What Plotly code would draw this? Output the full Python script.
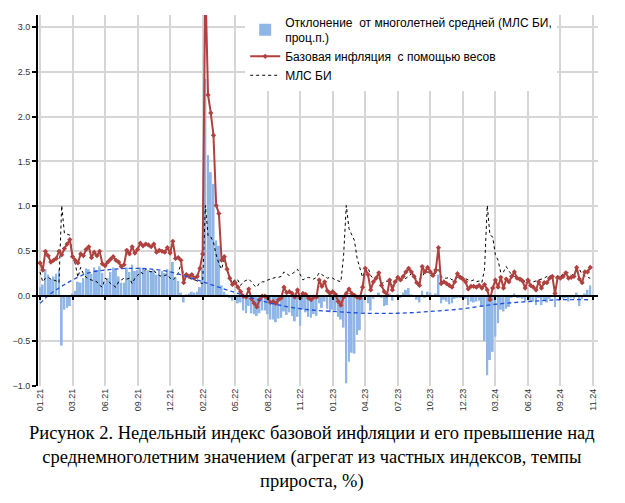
import plotly.graph_objects as go

# weekly core inflation (red), multi-year average (dotted) and deviation (bars), % / p.p.
core = [0.37, 0.29, 0.50, 0.45, 0.38, 0.40, 0.42, 0.50, 0.46, 0.53,
        0.58, 0.63, 0.44, 0.40, 0.37, 0.47, 0.45, 0.52, 0.55, 0.43,
        0.49, 0.45, 0.50, 0.36, 0.34, 0.38, 0.41, 0.44, 0.40, 0.38,
        0.33, 0.35, 0.51, 0.47, 0.55, 0.48, 0.52, 0.59, 0.56, 0.58,
        0.57, 0.55, 0.58, 0.49, 0.51, 0.50, 0.49, 0.54, 0.48, 0.61,
        0.42, 0.43, 0.40, 0.15, 0.24, 0.22, 0.24, 0.20, 0.22, 0.31,
        0.47, 3.50, 2.24, 2.04, 1.79, 1.01, 0.92, 0.40, 0.44, 0.30,
        0.20, 0.13, 0.15, 0.10, 0.05, 0.00, -0.01, 0.08, -0.03, -0.08,
        -0.12, -0.04, 0.00, 0.00, -0.02, -0.07, -0.06, -0.08, -0.04, -0.02,
        0.10, 0.04, 0.05, 0.03, -0.01, 0.07, -0.02, 0.03, 0.02, -0.02,
        -0.04, -0.01, -0.01, 0.18, 0.11, 0.16, 0.06, 0.03, 0.05, 0.02,
        -0.06, -0.10, -0.01, 0.03, 0.08, 0.03, 0.01, -0.01, -0.02, 0.10,
        0.31, 0.24, 0.07, 0.16, 0.20, 0.26, 0.12, 0.05, 0.01, 0.18,
        0.07, 0.16, 0.21, 0.18, 0.22, 0.27, 0.31, 0.27, 0.22, 0.15,
        0.12, 0.33, 0.27, 0.32, 0.27, 0.23, 0.29, 0.54, 0.14, 0.16,
        0.14, 0.12, 0.10, 0.16, 0.25, 0.21, 0.19, 0.16, 0.08, 0.11,
        0.11, 0.10, 0.12, 0.09, 0.13, 0.07, -0.04, 0.09, 0.18, 0.10,
        0.21, 0.09, 0.19, 0.16, 0.22, 0.27, 0.20, 0.19, 0.17, 0.09,
        0.18, 0.12, 0.10, 0.07, 0.16, 0.09, 0.15, 0.15, 0.20, 0.22,
        0.03, 0.21, 0.20, 0.22, 0.26, 0.20, 0.21, 0.22, 0.32, 0.19,
        0.15, 0.27, 0.27, 0.32]

avg = [0.27, 0.16, 0.20, 0.21, 0.19, 0.18, 0.17, 0.15, 1.01, 0.70,
       0.69, 0.68, 0.44, 0.36, 0.21, 0.32, 0.25, 0.21, 0.19, 0.18,
       0.17, 0.16, 0.12, 0.10, 0.20, 0.18, 0.14, 0.12, 0.10, 0.16,
       0.18, 0.20, 0.19, 0.20, 0.14, 0.20, 0.23, 0.27, 0.25, 0.30,
       0.28, 0.27, 0.29, 0.25, 0.23, 0.22, 0.23, 0.24, 0.20, 0.18,
       0.21, 0.26, 0.36, 0.24, 0.23, 0.20, 0.19, 0.18, 0.17, 0.15,
       0.14, 1.01, 0.67, 0.66, 0.60, 0.46, 0.36, 0.30, 0.42, 0.30,
       0.20, 0.15, 0.19, 0.18, 0.12, 0.16, 0.18, 0.19, 0.16, 0.12,
       0.10, 0.15, 0.16, 0.16, 0.18, 0.19, 0.20, 0.21, 0.21, 0.22,
       0.27, 0.25, 0.23, 0.25, 0.27, 0.30, 0.23, 0.18, 0.20, 0.21,
       0.20, 0.19, 0.21, 0.26, 0.24, 0.22, 0.20, 0.21, 0.20, 0.18,
       0.17, 0.16, 0.45, 1.01, 0.75, 0.69, 0.62, 0.42, 0.30, 0.21,
       0.29, 0.32, 0.23, 0.19, 0.20, 0.22, 0.14, 0.16, 0.17, 0.15,
       0.12, 0.15, 0.19, 0.19, 0.18, 0.20, 0.22, 0.25, 0.22, 0.19,
       0.19, 0.21, 0.28, 0.27, 0.23, 0.22, 0.26, 0.30, 0.22, 0.20,
       0.20, 0.21, 0.18, 0.19, 0.21, 0.23, 0.21, 0.19, 0.18, 0.17,
       0.18, 0.16, 0.17, 0.15, 0.30, 1.01, 0.68, 0.66, 0.46, 0.40,
       0.26, 0.27, 0.33, 0.28, 0.24, 0.22, 0.21, 0.20, 0.20, 0.15,
       0.17, 0.17, 0.16, 0.17, 0.18, 0.19, 0.20, 0.22, 0.23, 0.22,
       0.20, 0.21, 0.22, 0.25, 0.27, 0.26, 0.23, 0.25, 0.28, 0.30,
       0.24, 0.22, 0.21, 0.20]

dev = [0.10, 0.13, 0.30, 0.24, 0.19, 0.22, 0.25, 0.30, -0.55, -0.15,
       -0.13, -0.11, 0.03, 0.06, 0.16, 0.15, 0.20, 0.31, 0.30, 0.25,
       0.32, 0.29, 0.33, 0.26, 0.14, 0.20, 0.27, 0.32, 0.30, 0.22,
       0.15, 0.15, 0.32, 0.27, 0.35, 0.28, 0.29, 0.32, 0.31, 0.28,
       0.29, 0.28, 0.29, 0.24, 0.28, 0.28, 0.26, 0.30, 0.28, 0.38,
       0.21, 0.17, 0.04, -0.07, 0.02, 0.03, 0.05, 0.04, 0.05, 0.10,
       0.30, 2.42, 1.57, 1.38, 1.25, 0.62, 0.56, 0.12, 0.05, 0.02,
       -0.02, -0.05, -0.04, -0.08, -0.07, -0.16, -0.19, -0.11, -0.19, -0.20,
       -0.22, -0.19, -0.16, -0.16, -0.20, -0.26, -0.26, -0.29, -0.25, -0.24,
       -0.17, -0.21, -0.18, -0.22, -0.28, -0.23, -0.33, -0.15, -0.18, -0.23,
       -0.24, -0.20, -0.22, -0.08, -0.13, -0.06, -0.14, -0.18, -0.15, -0.16,
       -0.23, -0.26, -0.35, -0.97, -0.73, -0.63, -0.64, -0.43, -0.38, -0.18,
       0.02, -0.08, -0.16, -0.03, 0.00, 0.04, -0.02, -0.11, -0.10, 0.03,
       -0.05, 0.01, 0.02, -0.01, 0.04, 0.07, 0.09, 0.02, 0.00, -0.04,
       -0.07, 0.06, -0.01, 0.05, 0.04, 0.01, 0.03, 0.24, -0.08, -0.04,
       -0.06, -0.09, -0.08, -0.03, -0.02, -0.02, -0.02, -0.03, -0.10, -0.06,
       -0.07, -0.06, -0.05, -0.12, -0.50, -0.88, -0.71, -0.62, -0.45, -0.30,
       -0.15, -0.17, -0.14, -0.12, -0.02, 0.03, -0.01, -0.01, -0.03, -0.06,
       0.01, -0.05, -0.06, -0.10, -0.02, -0.10, -0.05, -0.07, -0.03, 0.00,
       -0.12, 0.00, -0.02, -0.03, -0.01, -0.06, -0.02, -0.03, 0.04, -0.11,
       -0.03, 0.03, 0.07, 0.12]

# trend line of the deviation, read at a few weeks
trend_week = [0, 4, 8, 12, 18, 24, 36, 48, 60, 72, 84, 96, 108, 120, 132, 144, 156, 168, 180, 192, 203]
trend_val = [-0.08, 0.03, 0.11, 0.18, 0.26, 0.29, 0.31, 0.27, 0.16, 0.04, -0.07, -0.14,
             -0.17, -0.19, -0.19, -0.17, -0.14, -0.09, -0.06, -0.04, -0.04]

tick_labels = ["01.21", "03.21", "06.21", "09.21", "12.21", "02.22", "05.22", "08.22", "11.22",
               "01.23", "04.23", "07.23", "10.23", "12.23", "03.24", "06.24", "09.24", "11.24"]

weeks = list(range(len(core)))
tick_pos = [12 * k for k in range(len(tick_labels))]
xrange = [-0.74, 205.86]
yrange = [-1.0, 3.13]

fig = go.Figure()

fig.add_trace(go.Bar(
    x=weeks, y=dev, name="Отклонение  от многолетней средней (МЛС БИ,<br>проц.п.)",
    marker=dict(color="#8fb6e6", line=dict(width=0)), width=0.72, legendrank=1,
))
fig.add_trace(go.Scatter(
    x=weeks, y=avg, name="МЛС БИ", mode="lines", legendrank=3,
    line=dict(color="black", width=1, dash="dot"),
))
fig.add_trace(go.Scatter(
    x=weeks, y=core, name="Базовая инфляция  с помощью весов", mode="lines+markers",
    legendrank=2,
    line=dict(color="#b0413e", width=2), marker=dict(symbol="diamond", size=4, color="#b0413e"),
))
fig.add_trace(go.Scatter(
    x=trend_week, y=trend_val, mode="lines", showlegend=False, xaxis="x2",
    line=dict(color="#1f4fe0", width=1.3, dash="4px,3px", shape="spline", smoothing=1.0),
))

grid = "#d6d6d6"
# the page puts the figure 8px in from the top-left corner, so the figure is a bit smaller
fig.update_layout(
    width=617, height=495,
    margin=dict(l=30, r=27, t=7, b=117, autoexpand=False),
    paper_bgcolor="white", plot_bgcolor="white",
    font=dict(family="Liberation Sans, Arial", color="black"),
    showlegend=True,
    legend=dict(x=0.37, y=1.02, xanchor="left", yanchor="top", bgcolor="white",
                font=dict(size=12), traceorder="normal", itemwidth=30, tracegroupgap=6),
    xaxis=dict(range=xrange, tickvals=tick_pos, ticktext=tick_labels, tickangle=-90,
               tickfont=dict(size=9, color="#333"), showgrid=True, gridcolor=grid, gridwidth=1.5,
               ticks="", showline=False, zeroline=False),
    xaxis2=dict(range=xrange, overlaying="x", anchor="free", position=1 / 4.13,
                tickvals=tick_pos, showticklabels=False, ticks="outside", ticklen=3,
                tickcolor="black", tickwidth=2, showline=True, linecolor="black", linewidth=2,
                showgrid=False, zeroline=False),
    yaxis=dict(range=yrange, dtick=0.5, tickformat=".1f", tickfont=dict(size=9, color="#333"),
               showgrid=True, gridcolor=grid, gridwidth=1.5, zeroline=False,
               showline=True, linecolor="black", linewidth=2,
               ticks="outside", ticklen=4, tickcolor="black", tickwidth=2),
    bargap=0.25,
)

# white panel behind the legend, as in the original
fig.add_shape(type="rect", xref="paper", yref="paper", x0=0.325, x1=1.0, y0=0.782, y1=1.0,
              fillcolor="white", line=dict(width=0), layer="between")

fig.add_annotation(
    text="Рисунок 2. Недельный индекс базовой инфляции и его превышение над<br>"
         "среднемноголетним значением (агрегат из частных индексов, темпы<br>"
         "прироста, %)",
    xref="paper", yref="paper", x=0.49, y=-0.095, xanchor="center", yanchor="top",
    showarrow=False, align="center",
    font=dict(family="Liberation Serif, Times New Roman", size=18.5, color="black"),
)

fig.write_html("out.html")
